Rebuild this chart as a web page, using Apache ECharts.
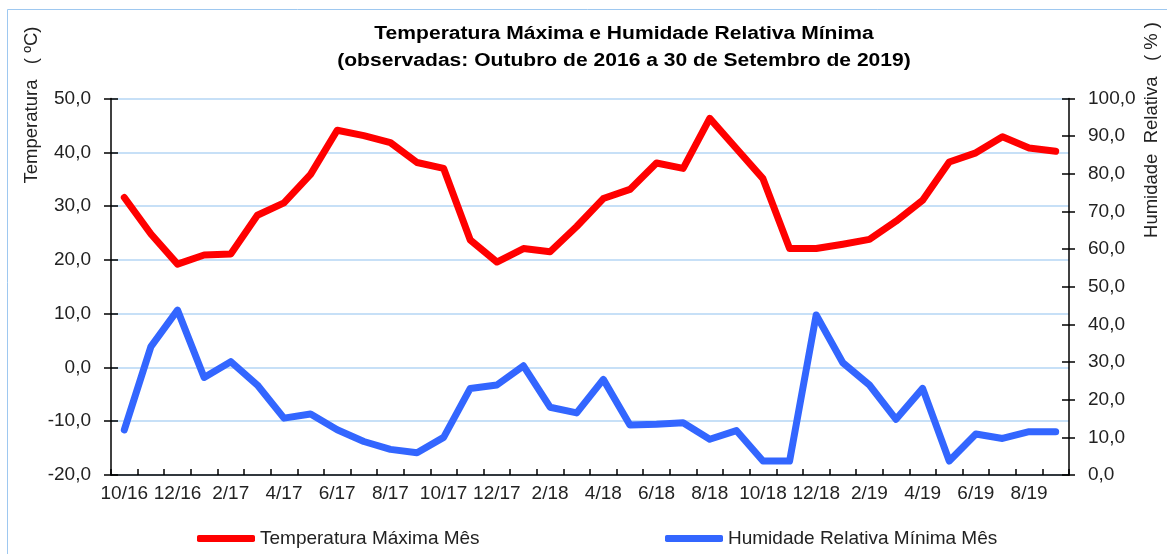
<!DOCTYPE html>
<html>
<head>
<meta charset="utf-8">
<script src="https://cdn.jsdelivr.net/npm/echarts@6/dist/echarts.min.js"></script>
<style>
html,body{margin:0;padding:0;background:#fff;}
#c{width:1167px;height:554px;}
</style>
</head>
<body>
<div id="c"></div>
<script>
const categories = ["10/16","11/16","12/16","1/17","2/17","3/17","4/17","5/17","6/17","7/17","8/17","9/17",
  "10/17","11/17","12/17","1/18","2/18","3/18","4/18","5/18","6/18","7/18","8/18","9/18",
  "10/18","11/18","12/18","1/19","2/19","3/19","4/19","5/19","6/19","7/19","8/19","9/19"];
const tempMax = [31.6,24.8,19.2,20.9,21.1,28.3,30.6,35.9,44.1,43.1,41.8,38.1,
  37.0,23.7,19.6,22.1,21.5,26.2,31.4,33.1,38.0,37.0,46.3,40.7,
  35.1,22.1,22.1,22.9,23.8,27.2,31.1,38.2,39.9,42.9,40.8,40.2];
const humMin = [12.0,34.1,43.8,25.9,30.1,23.9,15.1,16.2,12.0,8.9,6.8,5.9,
  10.0,23.0,23.9,29.0,18.0,16.5,25.4,13.3,13.5,13.9,9.5,11.8,
  3.7,3.7,42.5,29.8,23.9,14.8,23.0,3.7,10.9,9.7,11.5,11.5];
const titleLines = ["Temperatura Máxima e Humidade Relativa Mínima","(observadas: Outubro de 2016 a 30 de Setembro de 2019)"];
const seriesNames = ["Temperatura Máxima Mês","Humidade Relativa Mínima Mês"];
const axisNames = ["Temperatura   ( ºC)","Humidade  Relativa   ( % )"];

const FONT = "'Liberation Sans', Arial, sans-serif";
const fmt = v => v.toFixed(1).replace('.', ',');
const chart = echarts.init(document.getElementById('c'), null, {renderer:'canvas'});

const baseY = (min,max,interval,pos) => ({
  type:'value', min:min, max:max, interval:interval, position:pos, offset:0
});
const LBL = 19;

chart.setOption({
  backgroundColor:'#ffffff',
  animation:false,
  legend:[
    {data:[seriesNames[0]], left:197, top:529, padding:0, itemWidth:58, itemHeight:7, icon:'roundRect',
     textStyle:{fontFamily:FONT, fontSize:LBL, color:'#222'}},
    {data:[seriesNames[1]], left:665, top:529, padding:0, itemWidth:58, itemHeight:7, icon:'roundRect',
     textStyle:{fontFamily:FONT, fontSize:LBL, color:'#222'}}
  ],
  graphic:[
    {type:'rect', shape:{x:7.5,y:9.5,width:1300,height:700}, style:{fill:'none', stroke:'#9ec8f0', lineWidth:1}, silent:true},
    {type:'text', x:624, y:34, scaleX:1.17,
     style:{text:titleLines[0], font:'bold 18px '+FONT, fill:'#000', align:'center', verticalAlign:'middle'}},
    {type:'text', x:624, y:61, scaleX:1.17,
     style:{text:titleLines[1], font:'bold 18px '+FONT, fill:'#000', align:'center', verticalAlign:'middle'}},
    {type:'text', x:32, y:105, rotation:Math.PI/2,
     style:{text:axisNames[0], font:'18.5px '+FONT, fill:'#222', align:'center', verticalAlign:'middle'}},
    {type:'text', x:1152, y:130, rotation:Math.PI/2,
     style:{text:axisNames[1], font:'18.5px '+FONT, fill:'#222', align:'center', verticalAlign:'middle'}}
  ],
  grid:{left:111, right:98, top:98.5, bottom:79, containLabel:false},
  xAxis:{
    type:'category', data:categories, boundaryGap:true,
    axisLine:{onZero:false, lineStyle:{color:'#000', width:1.5}},
    axisTick:{show:true, inside:true, length:6, interval:0, lineStyle:{color:'#000', width:1.5}},
    axisLabel:{interval:1, margin:9, fontFamily:FONT, fontSize:LBL, color:'#222'},
    splitLine:{show:false}
  },
  yAxis:[
    Object.assign(baseY(-20,50,10,'left'), {
      axisLine:{show:true, lineStyle:{color:'#000', width:1.5}},
      axisTick:{show:true, length:7, lineStyle:{color:'#000', width:1.5}},
      axisLabel:{formatter:fmt, margin:20, fontFamily:FONT, fontSize:LBL, color:'#222'},
      splitLine:{show:true, lineStyle:{color:'#b5d6f5', width:1.5}}
    }),
    Object.assign(baseY(0,100,10,'right'), {
      axisLine:{show:true, lineStyle:{color:'#000', width:1.5}},
      axisTick:{show:true, length:6, lineStyle:{color:'#000', width:1.5}},
      axisLabel:{formatter:fmt, margin:19, fontFamily:FONT, fontSize:LBL, color:'#222'},
      splitLine:{show:false}
    }),
    Object.assign(baseY(-20,50,10,'left'), {
      axisLine:{show:false},
      axisTick:{show:true, inside:true, length:7, lineStyle:{color:'#000', width:1.5}},
      axisLabel:{show:false}, splitLine:{show:false}
    }),
    Object.assign(baseY(0,100,10,'right'), {
      axisLine:{show:false},
      axisTick:{show:true, inside:true, length:7, lineStyle:{color:'#000', width:1.5}},
      axisLabel:{show:false}, splitLine:{show:false}
    })
  ],
  series:[
    {name:seriesNames[0], type:'line', yAxisIndex:0, data:tempMax, showSymbol:false, symbol:'none',
     lineStyle:{color:'#ff0000', width:7, join:'round', cap:'round'}, itemStyle:{color:'#ff0000'}},
    {name:seriesNames[1], type:'line', yAxisIndex:1, data:humMin, showSymbol:false, symbol:'none',
     lineStyle:{color:'#3366ff', width:7, join:'round', cap:'round'}, itemStyle:{color:'#3366ff'}}
  ]
});
</script>
</body>
</html>
